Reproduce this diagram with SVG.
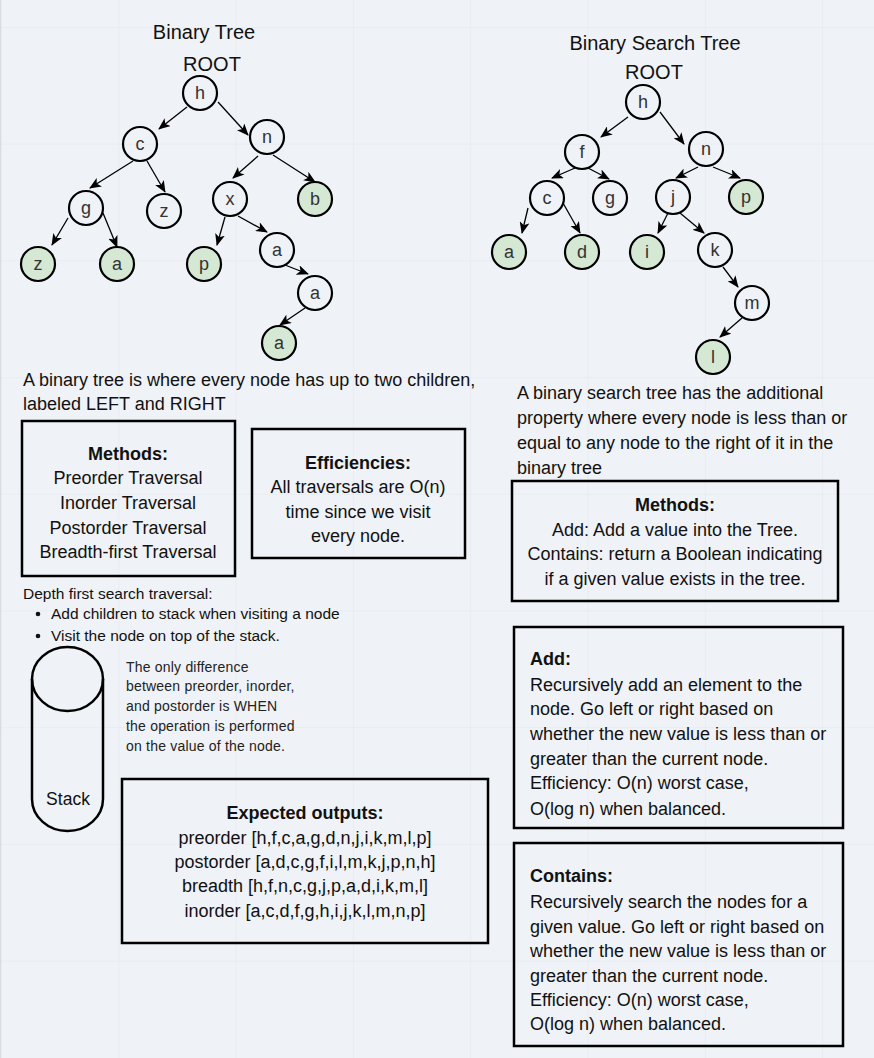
<svg xmlns="http://www.w3.org/2000/svg" width="874" height="1058" viewBox="0 0 874 1058">
<defs>
<pattern id="grid" x="1" y="27" width="117.3" height="116.7" patternUnits="userSpaceOnUse">
<path d="M0,0 H117.3 M0,0 V116.7" fill="none" stroke="#e4e8ed" stroke-width="1"/>
</pattern>
<marker id="arr" viewBox="0 0 12 10" markerWidth="12" markerHeight="10" refX="11" refY="5" orient="auto" markerUnits="userSpaceOnUse">
<path d="M0,0 L12,5 L0,10 L3,5 Z" fill="#000"/>
</marker>
<style>
.n{fill:none;stroke:#000;stroke-width:2.2}
.g{fill:#d5e8d4;stroke:#000;stroke-width:2.2}
.nt{font-family:"Liberation Sans",Arial,sans-serif;font-size:18px;fill:#333;text-anchor:middle}
.e{stroke:#000;stroke-width:1.3;fill:none;marker-end:url(#arr)}
.t{font-family:"Liberation Sans",Arial,sans-serif;font-size:18px;fill:#111}
.c{text-anchor:middle}
.b{font-weight:bold}
.title{font-family:"Liberation Sans",Arial,sans-serif;font-size:20px;fill:#111;text-anchor:middle}
.box{fill:none;stroke:#000;stroke-width:2.5}
.s{font-family:"Liberation Sans",Arial,sans-serif;font-size:14px;fill:#222;letter-spacing:0.2px}
.d{font-family:"Liberation Sans",Arial,sans-serif;font-size:15.5px;fill:#111}
</style>
</defs>
<rect width="874" height="1058" fill="#eff2f6"/>
<rect width="874" height="1058" fill="url(#grid)"/>
<line x1="0.5" y1="0" x2="0.5" y2="1058" stroke="#d8dce2"/>

<g id="titles">
<text class="title" x="204" y="39">Binary Tree</text>
<text class="title" x="212" y="71">ROOT</text>
<text class="title" x="655" y="50">Binary Search Tree</text>
<text class="title" x="654" y="79">ROOT</text>
</g>

<g id="connectors">
<line class="e" x1="187" y1="107" x2="159" y2="129"/>
<line class="e" x1="218" y1="102" x2="248" y2="135"/>
<line class="e" x1="133" y1="161" x2="90" y2="188"/>
<line class="e" x1="147" y1="161" x2="165" y2="192"/>
<line class="e" x1="258" y1="156" x2="233" y2="178"/>
<line class="e" x1="273" y1="155" x2="315" y2="182"/>
<line class="e" x1="68" y1="218" x2="52" y2="245"/>
<line class="e" x1="103" y1="213" x2="117" y2="247"/>
<line class="e" x1="225" y1="217" x2="217" y2="245"/>
<line class="e" x1="238" y1="216" x2="267" y2="232"/>
<line class="e" x1="285" y1="265" x2="308" y2="274"/>
<line class="e" x1="305" y1="308" x2="280" y2="325"/>

<line class="e" x1="628" y1="117" x2="601" y2="137"/>
<line class="e" x1="660" y1="112" x2="684" y2="144"/>
<line class="e" x1="575" y1="168" x2="552" y2="178"/>
<line class="e" x1="588" y1="168" x2="609" y2="179"/>
<line class="e" x1="528" y1="208" x2="522" y2="233"/>
<line class="e" x1="563" y1="203" x2="580" y2="233"/>
<line class="e" x1="698" y1="167" x2="676" y2="178"/>
<line class="e" x1="713" y1="167" x2="740" y2="178"/>
<line class="e" x1="668" y1="213" x2="658" y2="233"/>
<line class="e" x1="680" y1="213" x2="704" y2="233"/>
<line class="e" x1="723" y1="267" x2="738" y2="287"/>
<line class="e" x1="742" y1="318" x2="720" y2="337"/>
</g>

<g id="bt-h"><circle class="n" cx="200" cy="93" r="17"/><text class="nt" x="200" y="99">h</text></g>
<g id="bt-c"><circle class="n" cx="140" cy="144" r="17"/><text class="nt" x="140" y="150">c</text></g>
<g id="bt-n"><circle class="n" cx="267" cy="137" r="17"/><text class="nt" x="267" y="143">n</text></g>
<g id="bt-g"><circle class="n" cx="86" cy="208" r="17"/><text class="nt" x="86" y="214">g</text></g>
<g id="bt-z1"><circle class="n" cx="164" cy="211" r="17"/><text class="nt" x="164" y="217">z</text></g>
<g id="bt-x"><circle class="n" cx="230" cy="199" r="17"/><text class="nt" x="230" y="205">x</text></g>
<g id="bt-b"><circle class="g" cx="315" cy="199" r="17"/><text class="nt" x="315" y="205">b</text></g>
<g id="bt-z2"><circle class="g" cx="38" cy="264" r="17"/><text class="nt" x="38" y="270">z</text></g>
<g id="bt-a1"><circle class="g" cx="117" cy="264" r="17"/><text class="nt" x="117" y="270">a</text></g>
<g id="bt-p"><circle class="g" cx="204" cy="264" r="17"/><text class="nt" x="204" y="270">p</text></g>
<g id="bt-a2"><circle class="n" cx="277" cy="250" r="17"/><text class="nt" x="277" y="256">a</text></g>
<g id="bt-a3"><circle class="n" cx="315" cy="293" r="17"/><text class="nt" x="315" y="299">a</text></g>
<g id="bt-a4"><circle class="g" cx="279" cy="343" r="17"/><text class="nt" x="279" y="349">a</text></g>

<g id="bst-h"><circle class="n" cx="643" cy="102" r="17"/><text class="nt" x="643" y="108">h</text></g>
<g id="bst-f"><circle class="n" cx="582" cy="152" r="17"/><text class="nt" x="582" y="158">f</text></g>
<g id="bst-n"><circle class="n" cx="706" cy="149" r="17"/><text class="nt" x="706" y="155">n</text></g>
<g id="bst-c"><circle class="n" cx="547" cy="198" r="17"/><text class="nt" x="547" y="204">c</text></g>
<g id="bst-g"><circle class="n" cx="610" cy="198" r="17"/><text class="nt" x="610" y="204">g</text></g>
<g id="bst-j"><circle class="n" cx="673" cy="197" r="17"/><text class="nt" x="673" y="203">j</text></g>
<g id="bst-p"><circle class="g" cx="746" cy="197" r="17"/><text class="nt" x="746" y="203">p</text></g>
<g id="bst-a"><circle class="g" cx="509" cy="252" r="17"/><text class="nt" x="509" y="258">a</text></g>
<g id="bst-d"><circle class="g" cx="582" cy="252" r="17"/><text class="nt" x="582" y="258">d</text></g>
<g id="bst-i"><circle class="g" cx="647" cy="252" r="17"/><text class="nt" x="647" y="258">i</text></g>
<g id="bst-k"><circle class="n" cx="715" cy="250" r="17"/><text class="nt" x="715" y="256">k</text></g>
<g id="bst-m"><circle class="n" cx="752" cy="303" r="17"/><text class="nt" x="752" y="309">m</text></g>
<g id="bst-l"><circle class="g" cx="713" cy="357" r="17"/><text class="nt" x="713" y="363">l</text></g>

<g id="bt-desc">
<text class="t" x="23" y="386">A binary tree is where every node has up to two children,</text>
<text class="t" x="23" y="410">labeled LEFT and RIGHT</text>
</g>

<g id="bt-methods">
<rect class="box" x="22" y="421" width="213" height="155"/>
<text class="t c b" x="128" y="459.5">Methods:</text>
<text class="t c" x="128" y="483.5">Preorder Traversal</text>
<text class="t c" x="128" y="508.5">Inorder Traversal</text>
<text class="t c" x="128" y="533.5">Postorder Traversal</text>
<text class="t c" x="128" y="557.5">Breadth-first Traversal</text>
</g>

<g id="bt-eff">
<rect class="box" x="252" y="429" width="213" height="129"/>
<text class="t c b" x="358" y="468.5">Efficiencies:</text>
<text class="t c" x="358" y="492.5">All traversals are O(n)</text>
<text class="t c" x="358" y="517.5">time since we visit</text>
<text class="t c" x="358" y="541.5">every node.</text>
</g>

<g id="dfs">
<text class="d" x="23" y="598.5">Depth first search traversal:</text>
<circle cx="38" cy="614" r="2.3" fill="#111"/>
<text class="d" x="51" y="619">Add children to stack when visiting a node</text>
<circle cx="38" cy="636" r="2.3" fill="#111"/>
<text class="d" x="51" y="641">Visit the node on top of the stack.</text>
</g>

<g id="stack">
<path d="M32,679 A35.5,32 0 0 1 103,679 L103,799 A35.5,32 0 0 1 32,799 Z" fill="none" stroke="#000" stroke-width="2.5"/>
<path d="M32,679 A35.5,32 0 0 0 103,679" fill="none" stroke="#000" stroke-width="2.5"/>
<text class="t c" x="68" y="805" style="font-size:17.5px">Stack</text>
</g>

<g id="note">
<text class="s" x="126" y="672">The only difference</text>
<text class="s" x="126" y="691">between preorder, inorder,</text>
<text class="s" x="126" y="711">and postorder is WHEN</text>
<text class="s" x="126" y="731">the operation is performed</text>
<text class="s" x="126" y="751">on the value of the node.</text>
</g>

<g id="expected">
<rect class="box" x="122" y="779" width="366" height="164"/>
<text class="t c b" x="305" y="818.5">Expected outputs:</text>
<text class="t c" x="305" y="843.5">preorder [h,f,c,a,g,d,n,j,i,k,m,l,p]</text>
<text class="t c" x="305" y="867.5">postorder [a,d,c,g,f,i,l,m,k,j,p,n,h]</text>
<text class="t c" x="305" y="891.5">breadth [h,f,n,c,g,j,p,a,d,i,k,m,l]</text>
<text class="t c" x="305" y="916.5">inorder [a,c,d,f,g,h,i,j,k,l,m,n,p]</text>
</g>

<g id="bst-desc">
<text class="t" x="517" y="398.5">A binary search tree has the additional</text>
<text class="t" x="517" y="423.5">property where every node is less than or</text>
<text class="t" x="517" y="448.5">equal to any node to the right of it in the</text>
<text class="t" x="517" y="473.5">binary tree</text>
</g>

<g id="bst-methods">
<rect class="box" x="512" y="481" width="326" height="120"/>
<text class="t c b" x="675" y="510.5">Methods:</text>
<text class="t c" x="675" y="535.5">Add: Add a value into the Tree.</text>
<text class="t c" x="675" y="559.5">Contains: return a Boolean indicating</text>
<text class="t c" x="675" y="584.5">if a given value exists in the tree.</text>
</g>

<g id="bst-add">
<rect class="box" x="514" y="627" width="329" height="201"/>
<text class="t b" x="530" y="664.5">Add:</text>
<text class="t" x="530" y="690.5">Recursively add an element to the</text>
<text class="t" x="530" y="714.5">node. Go left or right based on</text>
<text class="t" x="530" y="739.5">whether the new value is less than or</text>
<text class="t" x="530" y="764.5">greater than the current node.</text>
<text class="t" x="530" y="788.5">Efficiency: O(n) worst case,</text>
<text class="t" x="530" y="814.5">O(log n) when balanced.</text>
</g>

<g id="bst-contains">
<rect class="box" x="514" y="843" width="329" height="203"/>
<text class="t b" x="530" y="881.5">Contains:</text>
<text class="t" x="530" y="907.5">Recursively search the nodes for a</text>
<text class="t" x="530" y="932.5">given value. Go left or right based on</text>
<text class="t" x="530" y="956.5">whether the new value is less than or</text>
<text class="t" x="530" y="981.5">greater than the current node.</text>
<text class="t" x="530" y="1005.5">Efficiency: O(n) worst case,</text>
<text class="t" x="530" y="1029.5">O(log n) when balanced.</text>
</g>
</svg>
